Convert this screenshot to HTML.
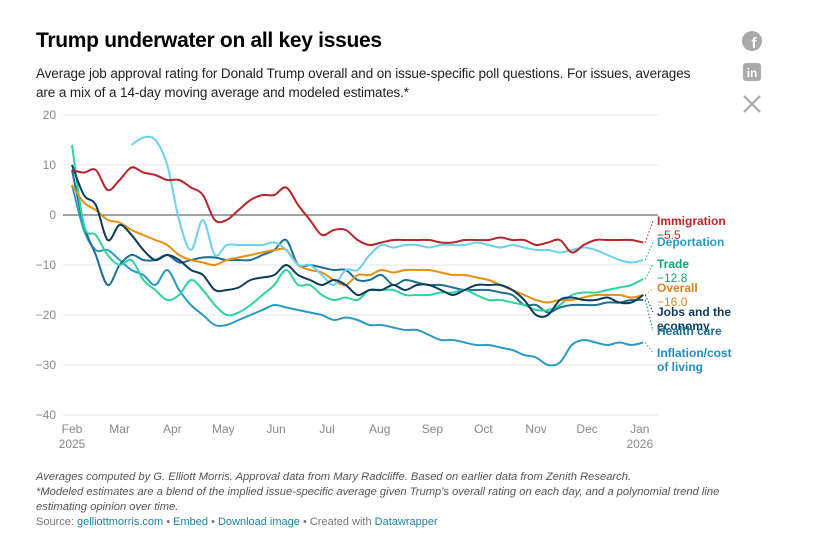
<!DOCTYPE html>
<html><head><meta charset="utf-8"><style>
body{margin:0;background:#fff;font-family:"Liberation Sans",sans-serif;}
#wrap{position:relative;width:814px;height:555px;overflow:hidden;}
.t{position:absolute;white-space:nowrap;}
</style></head><body>
<div id="wrap">
<div class="t" style="left:36px;top:29px;font-size:21px;font-weight:bold;color:#000;letter-spacing:-0.3px">Trump underwater on all key issues</div>
<div class="t" style="left:36px;top:64px;font-size:13.5px;line-height:19px;color:#222;white-space:normal;width:660px;letter-spacing:-0.1px">Average job approval rating for Donald Trump overall and on issue-specific poll questions. For issues, averages are a mix of a 14-day moving average and modeled estimates.*</div>
<svg width="814" height="555" style="position:absolute;left:0;top:0">
<g><circle cx="752" cy="41" r="10" fill="#aaa"/><text x="754" y="48" font-size="15" font-weight="bold" fill="#fff" text-anchor="middle" font-family="Liberation Sans">f</text></g>
<g><rect x="743" y="63" width="18" height="18" rx="3" fill="#aaa"/><text x="752" y="77" font-size="12" font-weight="bold" fill="#fff" text-anchor="middle" font-family="Liberation Sans">in</text></g>
<g><path d="M744 96 L760 112 M760 96 L744 112" stroke="#aaa" stroke-width="2.2"/></g>
</svg>
<svg id="chart" width="814" height="555" style="position:absolute;left:0;top:0"></svg>
<div class="t" style="left:36px;top:470px;font-size:11.2px;line-height:15px;color:#555;font-style:italic;white-space:normal;width:730px">Averages computed by G. Elliott Morris. Approval data from Mary Radcliffe. Based on earlier data from Zenith Research.<br>*Modeled estimates are a blend of the implied issue-specific average given Trump's overall rating on each day, and a polynomial trend line estimating opinion over time.</div>
<div class="t" style="left:36px;top:516px;font-size:11px;color:#777">Source: <span style="color:#1d81a2">gelliottmorris.com</span> • <span style="color:#1d81a2">Embed</span> • <span style="color:#1d81a2">Download image</span> • Created with <span style="color:#1d81a2">Datawrapper</span></div>
</div>
<script>
const yTicks=[20,10,0,-10,-20,-30,-40];
const months=["Feb","Mar","Apr","May","Jun","Jul","Aug","Sep","Oct","Nov","Dec","Jan"];
const monthDays=[0,28,59,89,120,150,181,212,242,273,303,334];
const weekStep=7;
const immigration=[9,8.5,9,5,7,9.5,8.5,8,7,7,5.5,4,-1,-1,1,3,4,4,5.5,2,-1,-4,-3,-3,-5,-6,-5.5,-5,-5,-5,-5,-5.5,-5.5,-5,-5,-5,-4.5,-5,-5,-6,-5.5,-5,-7.5,-6,-5,-5,-5,-5,-5.5];
const deportation=[null,null,null,null,null,14,15.5,15,10,-1,-7,-1,-8,-6,-6,-6,-6,-5.5,-7,-10,-10,-12,-14,-11,-11,-8,-6,-6.5,-6,-6,-6.5,-6,-6,-6,-5.5,-6,-6.5,-6,-6.5,-7,-7,-7.5,-7,-6.5,-7,-8,-9,-9.5,-9];
const trade=[14,-2,-4,-8,-10,-9,-13,-15,-17,-16,-13,-15,-18,-20,-19.5,-18,-16,-14,-11,-14,-14,-16,-17,-16.5,-17,-15,-15,-15,-16,-16,-16,-15.5,-15.5,-15,-16,-17,-17,-17.5,-18,-19,-19,-18,-16,-15.5,-15.5,-15,-14.5,-14,-12.8];
const overall=[6,2.5,1,-1,-1.5,-3,-4,-5,-6,-8,-9,-9.5,-10,-9,-8.5,-8,-7.5,-7,-7,-10,-11,-11.5,-13,-14,-12,-12,-11,-11.5,-11,-11,-11,-11.5,-12,-12,-12.5,-13,-14,-15,-16,-17,-17.5,-17,-17,-16.5,-16,-16,-16,-16.5,-16];
const jobs=[10,4,2,-5,-2,-4,-7,-9,-8,-9,-11,-12,-15,-15,-14.5,-13,-12.5,-12,-10,-12,-13,-14,-13,-14,-16,-15,-15,-14,-15,-14,-14,-15,-16,-15,-14,-14,-14,-15,-17,-20,-20,-17,-16.5,-17,-17,-16.5,-17.5,-17.5,-16];
const health=[9,-2,-8,-14,-10,-8,-9,-9,-8,-9.5,-9,-8.5,-8.5,-9,-9,-9,-8,-7,-5,-10,-10,-10.5,-11,-11,-13,-13,-12,-14,-13,-13.5,-14,-14,-14.5,-15,-15,-15,-15.5,-16,-18,-18,-19.5,-18.5,-18,-18,-18,-17.5,-17.5,-17,-17];
const inflation=[6,-3,-7,-7,-9,-11,-12,-14,-11,-15,-18,-20,-22,-22,-21,-20,-19,-18,-18.5,-19,-19.5,-20,-21,-20.5,-21,-22,-22,-22.5,-23,-23,-24,-25,-25,-25.5,-26,-26,-26.5,-27,-28,-28.5,-30,-29.5,-26,-25,-25.5,-26,-25.5,-26,-25.5];
const series=[
 {name:"inflation",vals:inflation,color:"#2b9bc6"},
 {name:"health-care",vals:health,color:"#1d6f94"},
 {name:"trade",vals:trade,color:"#2dd4a0"},
 {name:"overall",vals:overall,color:"#e88f12"},
 {name:"deportation",vals:deportation,color:"#6dd0ef"},
 {name:"jobs",vals:jobs,color:"#0d3b5c"},
 {name:"immigration",vals:immigration,color:"#b8242a"}];
const labels=[
 {lines:["Immigration"],val:"−5.5",color:"#c42127",y:225},
 {lines:["Deportation"],val:null,color:"#2a9bc4",y:246},
 {lines:["Trade"],val:"−12.8",color:"#14a37a",y:268},
 {lines:["Overall"],val:"−16.0",color:"#d9821b",y:292},
 {lines:["Jobs and the","economy"],val:null,color:"#0d3b5c",y:316},
 {lines:["Health care"],val:null,color:"#1d6f94",y:335},
 {lines:["Inflation/cost","of living"],val:null,color:"#1d8fba",y:357}];
const NS="http://www.w3.org/2000/svg";
const svg=document.getElementById('chart');
const X=d=>72+d*1.7;
const Y=v=>215-v*5;
function mk(tag,attrs,parent){const e=document.createElementNS(NS,tag);for(const k in attrs)e.setAttribute(k,attrs[k]);(parent||svg).appendChild(e);return e;}
yTicks.forEach(v=>{
 const l=mk('line',{x1:63,x2:658,y1:Y(v),y2:Y(v),stroke:v===0?'#444':'#e6e6e6','stroke-width':1});
 
 
 const t=mk('text',{x:56,y:Y(v)+4,'font-size':12,fill:'#888','text-anchor':'end','font-family':'Liberation Sans'});
 t.textContent=v<0?'−'+(-v):String(v);
 
 
});
months.forEach((m,i)=>{
 const t=mk('text',{x:X(monthDays[i]),y:433,'font-size':12,fill:'#888','text-anchor':'middle','font-family':'Liberation Sans'});
 t.textContent=m;
 
 
 if(i===0||i===months.length-1){const y=mk('text',{x:X(monthDays[i]),y:448,'font-size':12,fill:'#888','text-anchor':'middle','font-family':'Liberation Sans'});y.textContent=i===0?'2025':'2026';
 
 }
});
function pathFor(vals){
 const pts=[];vals.forEach((v,i)=>{if(v!==null)pts.push([X(i*weekStep),Y(v)]);});
 let d='M'+pts[0][0]+','+pts[0][1];
 for(let i=0;i<pts.length-1;i++){
  const p0=pts[i-1]||pts[i],p1=pts[i],p2=pts[i+1],p3=pts[i+2]||p2;
  const c1=[p1[0]+(p2[0]-p0[0])/6,p1[1]+(p2[1]-p0[1])/6],c2=[p2[0]-(p3[0]-p1[0])/6,p2[1]-(p3[1]-p1[1])/6];
  d+=' C'+c1.join(',')+' '+c2.join(',')+' '+p2.join(',');
 }
 return {d,last:pts[pts.length-1]};
}
const ends={};
series.forEach(s=>{
 const r=pathFor(s.vals);ends[s.name]=r.last;
 const p=mk('path',{d:r.d,fill:'none',stroke:s.color,'stroke-width':2,'stroke-linejoin':'round'});
 
 
});
const order=["immigration","deportation","trade","overall","jobs","health-care","inflation"];
labels.forEach((lb,i)=>{
 const e=ends[order[i]];
 const c=mk('path',{d:'M'+(e[0]+2)+','+e[1]+' L'+653+','+(lb.y-4),stroke:lb.color,'stroke-width':1,'stroke-dasharray':'1.5,2',fill:'none'});
 
 
 let y=lb.y;
 lb.lines.forEach(tx=>{const t=mk('text',{x:657,y:y,'font-size':12,'font-weight':'bold',fill:lb.color,'font-family':'Liberation Sans'});t.textContent=tx;
 
 y+=14;});
 if(lb.val){const t=mk('text',{x:657,y:y,'font-size':12,fill:lb.color,'font-family':'Liberation Sans'});t.textContent=lb.val;
 
 }
});
</script>
</body></html>
